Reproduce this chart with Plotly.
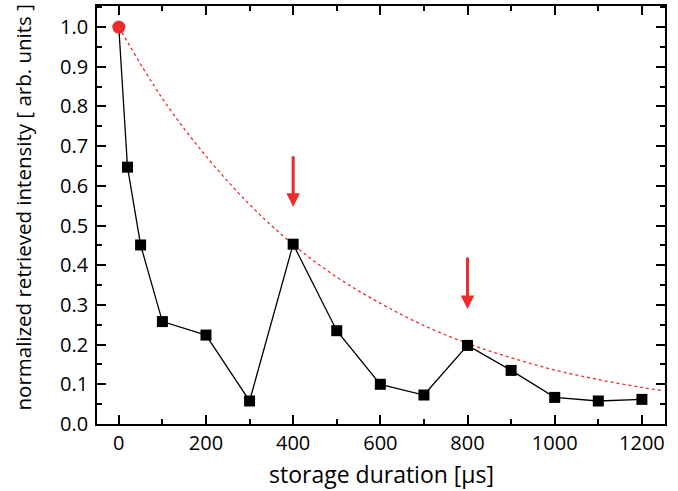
import plotly.graph_objects as go

# storage duration (µs) and normalized retrieved intensity
duration = [0, 20, 50, 100, 200, 300, 400, 500, 600, 700, 800, 900, 1000, 1100, 1200]
intensity = [1.0, 0.647, 0.451, 0.258, 0.224, 0.058, 0.453, 0.235, 0.100, 0.073, 0.198, 0.135, 0.067, 0.058, 0.062]

# red dashed decay envelope
env_x = [0, 100, 200, 300, 400, 500, 600, 700, 800, 900, 1000, 1100, 1200, 1250]
env_y = [1.0, 0.82, 0.675, 0.553, 0.452, 0.37, 0.304, 0.248, 0.203, 0.167, 0.136, 0.112, 0.092, 0.084]

# arrows: x position, tail y, tip y
arrow_x = [400, 800]
arrow_tail = [0.678, 0.423]
arrow_tip = [0.547, 0.290]

FONT = "Open Sans, DejaVu Sans Condensed, Liberation Sans, sans-serif"

fig = go.Figure()
fig.add_trace(go.Scatter(x=env_x, y=env_y, mode="lines",
                         line=dict(color="#ee2a2a", width=1.3, dash="3px,3px", shape="spline"),
                         hoverinfo="skip"))
fig.add_trace(go.Scatter(x=duration, y=intensity, mode="lines+markers",
                         line=dict(color="black", width=1.3),
                         marker=dict(symbol="square", size=[0] + [11] * (len(duration) - 1),
                                     color="black", opacity=1, line=dict(width=0))))
fig.add_trace(go.Scatter(x=duration[:1], y=intensity[:1], mode="markers",
                         marker=dict(symbol="circle", size=13, color="#ee2a2a", line=dict(width=0))))

for xa, yt, yh in zip(arrow_x, arrow_tail, arrow_tip):
    fig.add_annotation(x=xa, y=yh, ax=xa, ay=yt, xref="x", yref="y", axref="x", ayref="y",
                       text="", showarrow=True, arrowhead=2, arrowsize=0.9, arrowwidth=3,
                       arrowcolor="#ee2a2a")

fig.add_annotation(text="normalized retrieved intensity [ arb. units ]", textangle=-90,
                   xref="paper", yref="paper", x=(22 - 97) / 568, y=(424 - 207.5) / 418,
                   xanchor="center", yanchor="middle", showarrow=False,
                   font=dict(family=FONT, size=20.5, color="black"))
fig.add_annotation(text="storage duration [µs]",
                   xref="paper", yref="paper", x=0.5, y=(424 - 491) / 418,
                   xanchor="center", yanchor="bottom", showarrow=False, borderpad=0,
                   font=dict(family=FONT, size=23, color="black"))

axis_common = dict(showline=True, linecolor="black", linewidth=1.6, mirror="ticks",
                   ticks="inside", ticklen=9, tickwidth=1.5, tickcolor="black",
                   showgrid=False, zeroline=False, automargin=False,
                   tickfont=dict(family=FONT, size=20, color="black"))

fig.update_xaxes(range=[-50, 1253], tickmode="array", tickvals=[0, 200, 400, 600, 800, 1000, 1200],
                 minor=dict(ticks="inside", ticklen=5, tickwidth=1.5, tickcolor="black", dtick=100, tick0=0),
                 **axis_common)
fig.update_yaxes(range=[0, 1.053], tickmode="array",
                 tickvals=[0.0, 0.1, 0.2, 0.3, 0.4, 0.5, 0.6, 0.7, 0.8, 0.9, 1.0],
                 ticktext=["0.0", "0.1", "0.2", "0.3", "0.4", "0.5", "0.6", "0.7", "0.8", "0.9", "1.0"],
                 ticklabelstandoff=3,
                 minor=dict(ticks="inside", ticklen=5, tickwidth=1.5, tickcolor="black", dtick=0.05, tick0=0),
                 **axis_common)

fig.update_layout(width=678, height=491, margin=dict(l=97, r=13, t=6, b=67),
                  plot_bgcolor="white", paper_bgcolor="white", showlegend=False)

fig.write_html("out.html", config={"displayModeBar": False},
               post_script="document.body.style.margin='0';document.body.style.padding='0';document.body.style.overflow='hidden';")
